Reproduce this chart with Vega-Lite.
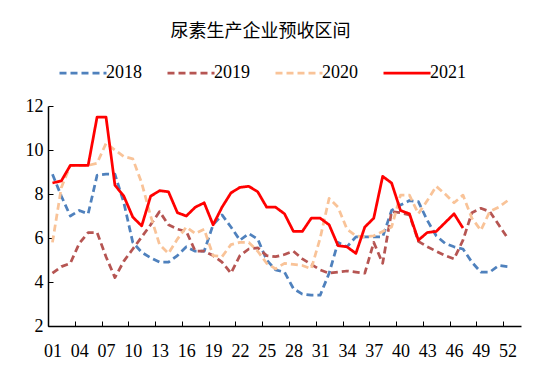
{
  "$schema": "https://vega.github.io/schema/vega-lite/v6.json",
  "width": 473,
  "height": 220,
  "autosize": {"type": "none"},
  "padding": {"left": 48, "top": 106, "right": 29, "bottom": 46},
  "background": "white",
  "title": {
    "text": "尿素生产企业预收区间",
    "font": "Noto Sans CJK SC",
    "fontSize": 18,
    "fontWeight": "normal",
    "color": "#000000",
    "anchor": "middle",
    "dx": -24,
    "offset": 7
  },
  "data": {
    "values": [
      {"week": 1, "year": "2018", "value": 8.9},
      {"week": 2, "year": "2018", "value": 7.9},
      {"week": 3, "year": "2018", "value": 7.0},
      {"week": 4, "year": "2018", "value": 7.25},
      {"week": 5, "year": "2018", "value": 7.1},
      {"week": 6, "year": "2018", "value": 8.85},
      {"week": 7, "year": "2018", "value": 8.9},
      {"week": 8, "year": "2018", "value": 8.9},
      {"week": 9, "year": "2018", "value": 7.6},
      {"week": 10, "year": "2018", "value": 5.8},
      {"week": 11, "year": "2018", "value": 5.35},
      {"week": 12, "year": "2018", "value": 5.1},
      {"week": 13, "year": "2018", "value": 4.9},
      {"week": 14, "year": "2018", "value": 4.9},
      {"week": 15, "year": "2018", "value": 5.2},
      {"week": 16, "year": "2018", "value": 5.6},
      {"week": 17, "year": "2018", "value": 5.4},
      {"week": 18, "year": "2018", "value": 5.4},
      {"week": 19, "year": "2018", "value": 6.6},
      {"week": 20, "year": "2018", "value": 7.05},
      {"week": 21, "year": "2018", "value": 6.5},
      {"week": 22, "year": "2018", "value": 5.9},
      {"week": 23, "year": "2018", "value": 6.2},
      {"week": 24, "year": "2018", "value": 5.95},
      {"week": 25, "year": "2018", "value": 5.0},
      {"week": 26, "year": "2018", "value": 4.55},
      {"week": 27, "year": "2018", "value": 4.45},
      {"week": 28, "year": "2018", "value": 3.7},
      {"week": 29, "year": "2018", "value": 3.45},
      {"week": 30, "year": "2018", "value": 3.4},
      {"week": 31, "year": "2018", "value": 3.4},
      {"week": 32, "year": "2018", "value": 4.4},
      {"week": 33, "year": "2018", "value": 5.8},
      {"week": 34, "year": "2018", "value": 5.6},
      {"week": 35, "year": "2018", "value": 6.05},
      {"week": 36, "year": "2018", "value": 6.05},
      {"week": 37, "year": "2018", "value": 6.05},
      {"week": 38, "year": "2018", "value": 6.05},
      {"week": 39, "year": "2018", "value": 7.25},
      {"week": 40, "year": "2018", "value": 7.5},
      {"week": 41, "year": "2018", "value": 7.7},
      {"week": 42, "year": "2018", "value": 7.65},
      {"week": 43, "year": "2018", "value": 6.8},
      {"week": 44, "year": "2018", "value": 6.1},
      {"week": 45, "year": "2018", "value": 5.75},
      {"week": 46, "year": "2018", "value": 5.6},
      {"week": 47, "year": "2018", "value": 5.5},
      {"week": 48, "year": "2018", "value": 4.9},
      {"week": 49, "year": "2018", "value": 4.45},
      {"week": 50, "year": "2018", "value": 4.45},
      {"week": 51, "year": "2018", "value": 4.75},
      {"week": 52, "year": "2018", "value": 4.7},
      {"week": 1, "year": "2019", "value": 4.4},
      {"week": 2, "year": "2019", "value": 4.7},
      {"week": 3, "year": "2019", "value": 4.85},
      {"week": 4, "year": "2019", "value": 5.75},
      {"week": 5, "year": "2019", "value": 6.25},
      {"week": 6, "year": "2019", "value": 6.25},
      {"week": 7, "year": "2019", "value": 5.15},
      {"week": 8, "year": "2019", "value": 4.2},
      {"week": 9, "year": "2019", "value": 4.95},
      {"week": 10, "year": "2019", "value": 5.5},
      {"week": 11, "year": "2019", "value": 6.05},
      {"week": 12, "year": "2019", "value": 6.6},
      {"week": 13, "year": "2019", "value": 7.2},
      {"week": 14, "year": "2019", "value": 6.6},
      {"week": 15, "year": "2019", "value": 6.4},
      {"week": 16, "year": "2019", "value": 6.3},
      {"week": 17, "year": "2019", "value": 5.4},
      {"week": 18, "year": "2019", "value": 5.4},
      {"week": 19, "year": "2019", "value": 5.2},
      {"week": 20, "year": "2019", "value": 4.9},
      {"week": 21, "year": "2019", "value": 4.4},
      {"week": 22, "year": "2019", "value": 5.2},
      {"week": 23, "year": "2019", "value": 5.5},
      {"week": 24, "year": "2019", "value": 5.55},
      {"week": 25, "year": "2019", "value": 5.2},
      {"week": 26, "year": "2019", "value": 5.15},
      {"week": 27, "year": "2019", "value": 5.25},
      {"week": 28, "year": "2019", "value": 5.4},
      {"week": 29, "year": "2019", "value": 5.05},
      {"week": 30, "year": "2019", "value": 4.8},
      {"week": 31, "year": "2019", "value": 4.55},
      {"week": 32, "year": "2019", "value": 4.4},
      {"week": 33, "year": "2019", "value": 4.45},
      {"week": 34, "year": "2019", "value": 4.5},
      {"week": 35, "year": "2019", "value": 4.45},
      {"week": 36, "year": "2019", "value": 4.4},
      {"week": 37, "year": "2019", "value": 5.8},
      {"week": 38, "year": "2019", "value": 4.85},
      {"week": 39, "year": "2019", "value": 7.2},
      {"week": 40, "year": "2019", "value": 7.15},
      {"week": 41, "year": "2019", "value": 7.05},
      {"week": 42, "year": "2019", "value": 5.85},
      {"week": 43, "year": "2019", "value": 5.6},
      {"week": 44, "year": "2019", "value": 5.4},
      {"week": 45, "year": "2019", "value": 5.2},
      {"week": 46, "year": "2019", "value": 5.05},
      {"week": 47, "year": "2019", "value": 5.9},
      {"week": 48, "year": "2019", "value": 7.15},
      {"week": 49, "year": "2019", "value": 7.35},
      {"week": 50, "year": "2019", "value": 7.2},
      {"week": 51, "year": "2019", "value": 6.6},
      {"week": 52, "year": "2019", "value": 6.0},
      {"week": 1, "year": "2020", "value": 5.8},
      {"week": 2, "year": "2020", "value": 8.3},
      {"week": 3, "year": "2020", "value": 9.3},
      {"week": 4, "year": "2020", "value": 9.3},
      {"week": 5, "year": "2020", "value": 9.3},
      {"week": 6, "year": "2020", "value": 9.4},
      {"week": 7, "year": "2020", "value": 10.3},
      {"week": 8, "year": "2020", "value": 10.0},
      {"week": 9, "year": "2020", "value": 9.7},
      {"week": 10, "year": "2020", "value": 9.6},
      {"week": 11, "year": "2020", "value": 8.5},
      {"week": 12, "year": "2020", "value": 7.0},
      {"week": 13, "year": "2020", "value": 5.7},
      {"week": 14, "year": "2020", "value": 5.3},
      {"week": 15, "year": "2020", "value": 5.95},
      {"week": 16, "year": "2020", "value": 6.5},
      {"week": 17, "year": "2020", "value": 6.2},
      {"week": 18, "year": "2020", "value": 6.4},
      {"week": 19, "year": "2020", "value": 5.2},
      {"week": 20, "year": "2020", "value": 5.15},
      {"week": 21, "year": "2020", "value": 5.7},
      {"week": 22, "year": "2020", "value": 5.8},
      {"week": 23, "year": "2020", "value": 5.8},
      {"week": 24, "year": "2020", "value": 5.4},
      {"week": 25, "year": "2020", "value": 4.85},
      {"week": 26, "year": "2020", "value": 4.6},
      {"week": 27, "year": "2020", "value": 4.85},
      {"week": 28, "year": "2020", "value": 4.8},
      {"week": 29, "year": "2020", "value": 4.75},
      {"week": 30, "year": "2020", "value": 4.6},
      {"week": 31, "year": "2020", "value": 6.0},
      {"week": 32, "year": "2020", "value": 7.8},
      {"week": 33, "year": "2020", "value": 7.4},
      {"week": 34, "year": "2020", "value": 6.4},
      {"week": 35, "year": "2020", "value": 6.1},
      {"week": 36, "year": "2020", "value": 6.05},
      {"week": 37, "year": "2020", "value": 6.1},
      {"week": 38, "year": "2020", "value": 6.3},
      {"week": 39, "year": "2020", "value": 6.5},
      {"week": 40, "year": "2020", "value": 7.95},
      {"week": 41, "year": "2020", "value": 7.95},
      {"week": 42, "year": "2020", "value": 7.1},
      {"week": 43, "year": "2020", "value": 7.7},
      {"week": 44, "year": "2020", "value": 8.35},
      {"week": 45, "year": "2020", "value": 8.0},
      {"week": 46, "year": "2020", "value": 7.6},
      {"week": 47, "year": "2020", "value": 7.95},
      {"week": 48, "year": "2020", "value": 6.9},
      {"week": 49, "year": "2020", "value": 6.35},
      {"week": 50, "year": "2020", "value": 7.2},
      {"week": 51, "year": "2020", "value": 7.4},
      {"week": 52, "year": "2020", "value": 7.7},
      {"week": 1, "year": "2021", "value": 8.5},
      {"week": 2, "year": "2021", "value": 8.6},
      {"week": 3, "year": "2021", "value": 9.3},
      {"week": 4, "year": "2021", "value": 9.3},
      {"week": 5, "year": "2021", "value": 9.3},
      {"week": 6, "year": "2021", "value": 11.5},
      {"week": 7, "year": "2021", "value": 11.5},
      {"week": 8, "year": "2021", "value": 8.4},
      {"week": 9, "year": "2021", "value": 7.9},
      {"week": 10, "year": "2021", "value": 6.95},
      {"week": 11, "year": "2021", "value": 6.55},
      {"week": 12, "year": "2021", "value": 7.9},
      {"week": 13, "year": "2021", "value": 8.15},
      {"week": 14, "year": "2021", "value": 8.1},
      {"week": 15, "year": "2021", "value": 7.15},
      {"week": 16, "year": "2021", "value": 7.0},
      {"week": 17, "year": "2021", "value": 7.4},
      {"week": 18, "year": "2021", "value": 7.6},
      {"week": 19, "year": "2021", "value": 6.6},
      {"week": 20, "year": "2021", "value": 7.4},
      {"week": 21, "year": "2021", "value": 8.05},
      {"week": 22, "year": "2021", "value": 8.3},
      {"week": 23, "year": "2021", "value": 8.35},
      {"week": 24, "year": "2021", "value": 8.1},
      {"week": 25, "year": "2021", "value": 7.4},
      {"week": 26, "year": "2021", "value": 7.4},
      {"week": 27, "year": "2021", "value": 7.1},
      {"week": 28, "year": "2021", "value": 6.3},
      {"week": 29, "year": "2021", "value": 6.3},
      {"week": 30, "year": "2021", "value": 6.9},
      {"week": 31, "year": "2021", "value": 6.9},
      {"week": 32, "year": "2021", "value": 6.6},
      {"week": 33, "year": "2021", "value": 5.65},
      {"week": 34, "year": "2021", "value": 5.6},
      {"week": 35, "year": "2021", "value": 5.3},
      {"week": 36, "year": "2021", "value": 6.5},
      {"week": 37, "year": "2021", "value": 6.9},
      {"week": 38, "year": "2021", "value": 8.8},
      {"week": 39, "year": "2021", "value": 8.5},
      {"week": 40, "year": "2021", "value": 7.25},
      {"week": 41, "year": "2021", "value": 7.1},
      {"week": 42, "year": "2021", "value": 5.9},
      {"week": 43, "year": "2021", "value": 6.25},
      {"week": 44, "year": "2021", "value": 6.3},
      {"week": 45, "year": "2021", "value": 6.7},
      {"week": 46, "year": "2021", "value": 7.1},
      {"week": 47, "year": "2021", "value": 6.45}
    ]
  },
  "mark": {"type": "line", "strokeJoin": "round"},
  "encoding": {
    "x": {
      "field": "week",
      "type": "quantitative",
      "scale": {"domain": [0.5, 53.5], "nice": false, "zero": false},
      "axis": {
        "title": null,
        "values": [1, 4, 7, 10, 13, 16, 19, 22, 25, 28, 31, 34, 37, 40, 43, 46, 49, 52],
        "labelExpr": "datum.value < 10 ? '0' + datum.value : '' + datum.value",
        "grid": false,
        "domainColor": "#000000",
        "domainWidth": 1.5,
        "tickColor": "#000000",
        "tickSize": -5,
        "tickOffset": -4.45,
        "labelOffset": 4.45,
        "labelPadding": 21,
        "labelFont": "Liberation Serif",
        "labelFontSize": 18,
        "labelColor": "#000000",
        "labelFlush": false
      }
    },
    "y": {
      "field": "value",
      "type": "quantitative",
      "scale": {"domain": [2, 12], "nice": false, "zero": false},
      "axis": {
        "title": null,
        "values": [2, 4, 6, 8, 10, 12],
        "grid": false,
        "domainColor": "#000000",
        "domainWidth": 1.5,
        "tickColor": "#000000",
        "tickSize": -5,
        "labelPadding": 10,
        "labelFont": "Liberation Serif",
        "labelFontSize": 18,
        "labelColor": "#000000"
      }
    },
    "color": {
      "field": "year",
      "type": "nominal",
      "scale": {"domain": ["2018", "2019", "2020", "2021"], "range": ["#4F81BD", "#B65552", "#F9C398", "#FF0000"]},
      "legend": {
        "title": null,
        "orient": "none",
        "direction": "horizontal",
        "legendX": 10,
        "legendY": -58,
        "symbolType": "stroke",
        "symbolSize": 2209,
        "labelFont": "Liberation Serif",
        "labelFontSize": 18,
        "labelColor": "#000000",
        "labelOffset": -2,
        "columnPadding": 20,
        "padding": 0
      }
    },
    "strokeDash": {
      "field": "year",
      "type": "nominal",
      "scale": {"domain": ["2018", "2019", "2020", "2021"], "range": [[7, 4], [7, 4], [7, 4], [1, 0]]},
      "legend": null
    },
    "strokeWidth": {
      "field": "year",
      "type": "nominal",
      "scale": {"domain": ["2018", "2019", "2020", "2021"], "range": [2.75, 2.75, 2.75, 4.75]},
      "legend": null
    }
  },
  "config": {"view": {"stroke": null}}
}
